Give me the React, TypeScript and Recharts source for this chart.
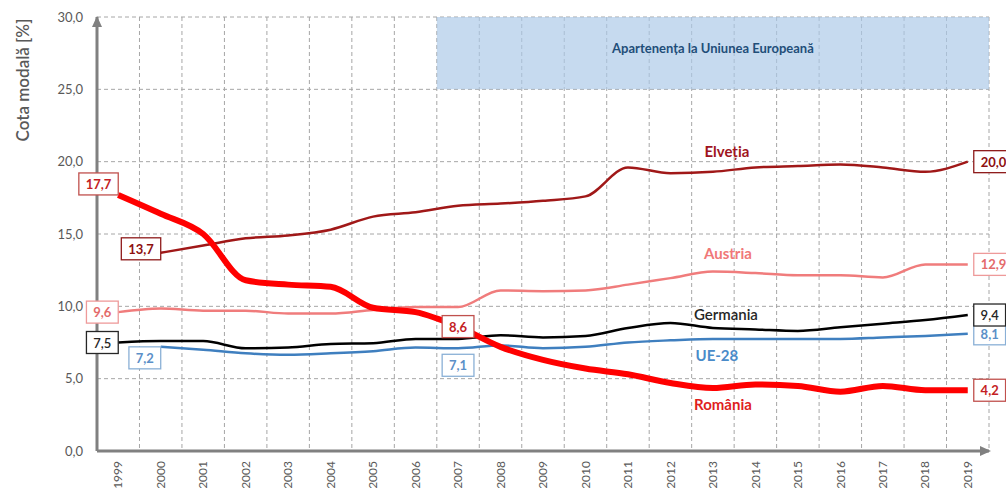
import React from 'react';
import {
  ComposedChart,
  Line,
  XAxis,
  YAxis,
  CartesianGrid,
  ReferenceArea,
  LabelList,
  Label,
} from 'recharts';

const years = [
  '1999', '2000', '2001', '2002', '2003', '2004', '2005', '2006', '2007', '2008', '2009',
  '2010', '2011', '2012', '2013', '2014', '2015', '2016', '2017', '2018', '2019',
];

const romania = [17.7, 16.4, 15.0, 11.8, 11.5, 11.35, 9.9, 9.6, 8.6, 7.2, 6.3, 5.7, 5.3, 4.7, 4.35, 4.6, 4.5, 4.1, 4.5, 4.2, 4.2];
const elvetia = [null, 13.7, 14.2, 14.7, 14.9, 15.3, 16.2, 16.5, 16.95, 17.1, 17.3, 17.6, 19.6, 19.2, 19.3, 19.6, 19.7, 19.8, 19.6, 19.3, 20.0];
const austria = [9.6, 9.85, 9.7, 9.7, 9.5, 9.5, 9.75, 9.95, 9.95, 11.1, 11.05, 11.1, 11.5, 11.95, 12.4, 12.3, 12.15, 12.15, 12.0, 12.9, 12.9];
const germania = [7.5, 7.6, 7.6, 7.1, 7.15, 7.4, 7.45, 7.75, 7.75, 8.0, 7.85, 7.95, 8.5, 8.85, 8.5, 8.4, 8.3, 8.55, 8.8, 9.05, 9.4];
const ue28 = [null, 7.2, 7.0, 6.75, 6.65, 6.75, 6.9, 7.15, 7.1, 7.3, 7.1, 7.2, 7.5, 7.65, 7.75, 7.75, 7.75, 7.75, 7.85, 7.95, 8.1];

const yTicks = [0, 5, 10, 15, 20, 25, 30];
const euStartYear = '2007';
const euLabel = 'Apartenența la Uniunea Europeană';
const midYear = '2007';
const nameYear = '2013';

const data = years.map((year, i) => ({
  year,
  romania: romania[i],
  elvetia: elvetia[i],
  austria: austria[i],
  germania: germania[i],
  ue28: ue28[i],
}));

const midIdx = years.indexOf(midYear);
const nameIdx = years.indexOf(nameYear);

const FONT = "Lato, 'Open Sans', sans-serif";
const AXIS = '#808080';
const fmt = (v: number) => v.toFixed(1).replace('.', ',');

const series = [
  { key: 'austria', name: 'Austria', line: '#f07c7c', width: 2.5, text: '#e46a6a', border: '#ee9a9a', nameColor: '#f07878', weight: 700, nameDx: 15, nameDy: -19, firstDy: 0, midDy: null as number | null },
  { key: 'ue28', name: 'UE-28', line: '#3f7fbf', width: 2.5, text: '#5b90c8', border: '#8ab0d6', nameColor: '#4a8bc9', weight: 700, nameDx: 4, nameDy: 16, firstDy: 11, midDy: 17 },
  { key: 'germania', name: 'Germania', line: '#000000', width: 2.5, text: '#262626', border: '#262626', nameColor: '#262626', weight: 600, nameDx: 13, nameDy: -14, firstDy: 0, midDy: null },
  { key: 'elvetia', name: 'Elveția', line: '#a01818', width: 2.5, text: '#8e1010', border: '#8e1a1a', nameColor: '#a0141e', weight: 700, nameDx: 14, nameDy: -21, firstDy: -4, midDy: null },
  { key: 'romania', name: 'România', line: '#ff0000', width: 6, text: '#c41e24', border: '#c0504d', nameColor: '#e01e1e', weight: 700, nameDx: 10, nameDy: 16, firstDy: -11, midDy: 0 },
];

const Box = ({ cx, cy, text, color, border, weight }: any) => {
  const w = text.length * 7.6 + 9;
  const h = 22;
  return (
    <g>
      <rect x={cx - w / 2} y={cy - h / 2} width={w} height={h} fill="#fff" stroke={border} strokeWidth={1.3} />
      <text x={cx} y={cy} textAnchor="middle" dominantBaseline="central" fill={color} fontSize={13} fontWeight={weight} fontFamily={FONT}>
        {text}
      </text>
    </g>
  );
};

const makeLabel = (s: typeof series[number]) => (p: any) => {
  const { x, y, index, value } = p;
  if (value == null || x == null || y == null) return null;
  const vals = data.map((d: any) => d[s.key]);
  const first = vals.findIndex((v: any) => v != null);
  const last = vals.length - 1;
  const text = fmt(Number(value));
  const w = text.length * 7.6 + 9;
  const out: React.ReactNode[] = [];
  if (index === first) {
    out.push(<Box key="f" cx={x - w / 2} cy={y + s.firstDy} text={text} color={s.text} border={s.border} weight={s.weight} />);
  }
  if (index === last) {
    out.push(<Box key="l" cx={x + 6 + w / 2} cy={y} text={text} color={s.text} border={s.border} weight={s.weight} />);
  }
  if (index === midIdx && s.midDy != null) {
    out.push(<Box key="m" cx={x} cy={y + s.midDy} text={text} color={s.text} border={s.border} weight={s.weight} />);
  }
  if (index === nameIdx) {
    out.push(
      <text key="n" x={x + s.nameDx} y={y + s.nameDy} textAnchor="middle" dominantBaseline="central" fill={s.nameColor} fontSize={15} fontWeight={s.weight} fontFamily={FONT}>
        {s.name}
      </text>
    );
  }
  return <g>{out}</g>;
};

// vertical grid lines sit on the boundaries between the year bands
const bandBounds = (props: any) => {
  const { offset } = props;
  const step = offset.width / years.length;
  return years.map((_, i) => offset.left + i * step).concat(offset.left + offset.width);
};

const YearTick = ({ x, y, payload }: any) => (
  <g transform={`translate(${x},${y + 2}) rotate(-90)`}>
    <text textAnchor="end" dy="0.35em" fill="#595959" fontSize={12} fontFamily={FONT}>
      {payload.value}
    </text>
  </g>
);

// y title plus the arrow head on top of the y axis
const YTitle = (p: any) => {
  const vb = p.viewBox || { x: 0, y: 17, width: 97 };
  const tx = vb.x + 22;
  const ty = vb.y + 63;
  const ax = vb.x + vb.width;
  const ay = vb.y;
  return (
    <g>
      <polygon points={`${ax},${ay - 1} ${ax - 5},${ay + 10} ${ax + 5},${ay + 10}`} fill={AXIS} />
      <text x={tx} y={ty} transform={`rotate(-90, ${tx}, ${ty})`} textAnchor="middle" dominantBaseline="central" fill="#595959" fontSize={17} fontWeight={600} fontFamily={FONT}>
        Cota modală [%]
      </text>
    </g>
  );
};

// arrow head at the right end of the x axis
const XArrow = (p: any) => {
  const vb = p.viewBox;
  if (!vb) return null;
  const bx = vb.x + vb.width;
  const by = vb.y;
  return <polygon points={`${bx + 2},${by} ${bx - 9},${by - 5} ${bx - 9},${by + 5}`} fill={AXIS} />;
};

const EuLabel = (p: any) => {
  const vb = p.viewBox;
  if (!vb) return null;
  return (
    <text x={vb.x + vb.width / 2} y={vb.y + vb.height / 2 - 5} textAnchor="middle" dominantBaseline="central" fill="#1f4e79" fontSize={13} fontWeight={700} fontFamily={FONT}>
      {euLabel}
    </text>
  );
};

export default function App() {
  return (
    <div style={{ position: 'fixed', left: 0, top: 0, background: '#fff' }}>
      <ComposedChart width={1006} height={488} data={data} margin={{ top: 17, right: 17, bottom: 0, left: 0 }}>
        <CartesianGrid stroke="#a6a6a6" strokeDasharray="4 3" verticalCoordinatesGenerator={bandBounds} />
        <ReferenceArea x1={euStartYear} x2={years[years.length - 1]} y1={25} y2={30} fill="#abc8e7" fillOpacity={0.68} stroke="none" label={<EuLabel />} />
        <XAxis
          dataKey="year"
          scale="band"
          interval={0}
          tickLine={false}
          axisLine={{ stroke: AXIS, strokeWidth: 3 }}
          height={37}
          tick={<YearTick />}
        >
          <Label content={<XArrow />} />
        </XAxis>
        <YAxis
          width={97}
          domain={[0, 30]}
          ticks={yTicks}
          interval={0}
          tickLine={false}
          tickMargin={8}
          axisLine={{ stroke: AXIS, strokeWidth: 3 }}
          tick={{ fill: '#595959', fontSize: 13, fontFamily: FONT }}
          tickFormatter={(v: number) => fmt(v)}
        >
          <Label content={<YTitle />} />
        </YAxis>
        {series.map((s) => (
          <Line
            key={s.key}
            type="monotone"
            dataKey={s.key}
            stroke={s.line}
            strokeWidth={s.width}
            dot={false}
            activeDot={false}
            isAnimationActive={false}
          >
            <LabelList dataKey={s.key} content={makeLabel(s)} />
          </Line>
        ))}
      </ComposedChart>
    </div>
  );
}
